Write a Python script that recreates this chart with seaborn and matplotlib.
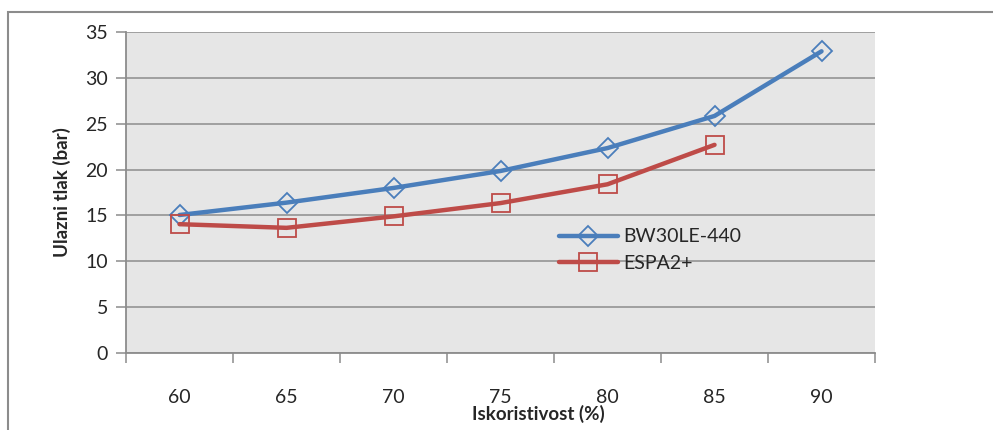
import numpy as np
import pandas as pd
import matplotlib
matplotlib.use("Agg")
import matplotlib.pyplot as plt
import seaborn as sns
from matplotlib.patches import Rectangle

recovery = ["60", "65", "70", "75", "80", "85", "90"]
bw30 = [15.05, 16.4, 18.0, 19.85, 22.35, 25.85, 32.9]
espa = [14.05, 13.65, 14.9, 16.35, 18.4, 22.7, np.nan]

sns.set_style("white")
plt.rcParams['font.family'] = ['Lato', 'DejaVu Sans']

fig = plt.figure(figsize=(9.93, 4.30), dpi=100)
ax = fig.add_axes([0.1269, 0.179, 0.7543, 0.7465])
ax.set_facecolor("#E6E6E6")

# outer frame like the spreadsheet chart border
fig.patches.append(Rectangle((8 / 993, -0.1), 1.2, 1 - 12 / 430 + 0.1,
                             transform=fig.transFigure, fill=False,
                             edgecolor="#8C8C8C", linewidth=1.5))

pos = np.arange(len(recovery))
df = pd.DataFrame({"x": pos, "BW30LE-440": bw30, "ESPA2+": espa})

sns.lineplot(data=df, x="x", y="BW30LE-440", ax=ax, color="#4A7EBB",
             linewidth=3.2, marker="D", markersize=10, markerfacecolor="none",
             markeredgecolor="#4A7EBB", markeredgewidth=1.3, label="BW30LE-440")
sns.lineplot(data=df.dropna(), x="x", y="ESPA2+", ax=ax, color="#BE4B48",
             linewidth=3.2, marker="s", markersize=13, markerfacecolor="none",
             markeredgecolor="#BE4B48", markeredgewidth=1.3, label="ESPA2+")

ax.set_xlim(-0.5, len(recovery) - 0.5)
ax.set_ylim(0, 35)
ax.set_yticks(np.arange(0, 36, 5))
ax.yaxis.grid(True, color="#8C8C8C", linewidth=1.1)
ax.set_axisbelow(True)

ax.set_xticks(pos)
ax.set_xticklabels(recovery)
ax.set_xticks(np.arange(-0.5, len(recovery)), minor=True)
ax.tick_params(axis="x", which="major", length=0, pad=26, labelsize=14)
ax.tick_params(axis="x", which="minor", length=7, color="#8C8C8C", width=1.1,
               direction="out", bottom=True)
ax.tick_params(axis="y", length=7, color="#8C8C8C", width=1.1, left=True,
               direction="out", pad=6, labelsize=14)

for s in ["top", "right"]:
    ax.spines[s].set_visible(False)
for s in ["left", "bottom"]:
    ax.spines[s].set_color("#8C8C8C")
    ax.spines[s].set_linewidth(1.3)

ax.set_xlabel("Iskoristivost (%)", fontsize=13.5, fontweight="bold")
ax.xaxis.set_label_coords(0.55, -0.162)
ax.set_ylabel("Ulazni tlak (bar)", fontsize=13.5, fontweight="bold", labelpad=10)

ax.legend(loc="center left", bbox_to_anchor=(0.555, 0.32), frameon=False,
          fontsize=14, handlelength=3.0, handletextpad=0.3, labelspacing=0.5)

fig.savefig("out.png", dpi=100)
